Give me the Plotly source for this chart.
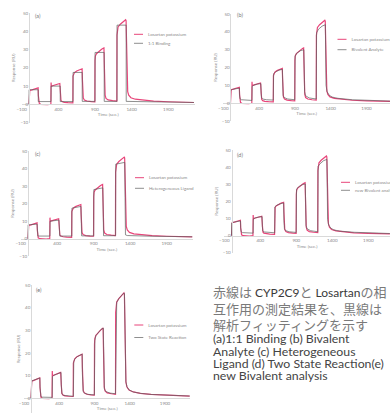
import plotly.graph_objects as go

# ---------------- data ----------------
time_data = [0, 3, 10, 40, 80, 110, 124, 127, 131, 140, 160, 200, 250, 298,
             300, 301, 304, 320, 360, 400, 420, 426, 430, 436, 450, 480, 530, 598,
             600, 606, 620, 650, 690, 715, 724, 728, 732, 740, 755, 790, 850, 898,
             900, 905, 920, 950, 990, 1012, 1022, 1026, 1030, 1038, 1050, 1080, 1140, 1198,
             1200, 1204, 1215, 1245, 1280, 1305, 1318, 1324, 1328, 1332, 1338, 1346, 1360,
             1390, 1450, 1550, 1700, 1900, 2100, 2250]
resp_data = [0, 7.0, 7.6, 7.9, 8.3, 8.7, 9.0, 5.0, 1.5, 0.5, 0.0, -0.2, -0.2, 0.0,
             9.0, 12.0, 9.8, 10.2, 10.7, 11.2, 11.4, 8.0, 4.0, 2.2, 1.5, 1.1, 0.9, 0.8,
             15.5, 16.5, 17.4, 18.3, 19.0, 19.4, 19.5, 14.0, 7.0, 3.5, 2.4, 1.8, 1.5, 1.4,
             24.0, 26.5, 27.8, 29.0, 30.2, 30.8, 31.0, 24.0, 12.0, 5.0, 3.2, 2.4, 2.0, 1.8,
             38.0, 41.0, 42.5, 44.0, 45.3, 46.2, 46.5, 46.0, 38.0, 25.0, 12.0, 7.0, 5.0,
             3.6, 2.8, 2.2, 1.7, 1.4, 1.2, 1.0]

fit_a_t = [0, 1, 125, 126, 300, 301, 425, 426, 600, 601, 725, 726, 900, 901,
           1025, 1026, 1200, 1201, 1325, 1326, 2250]
fit_a_y = [0, 8.0, 8.0, 1.5, 1.5, 10.0, 10.0, 1.5, 1.5, 17.5, 17.5, 1.6, 1.6, 28.5,
           28.5, 1.6, 1.6, 43.5, 43.5, 1.6, 1.0]

fit_b_t = [0, 2, 30, 80, 125, 128, 135, 150, 200, 298,
           300, 303, 330, 380, 425, 428, 435, 450, 500, 598,
           600, 603, 630, 680, 725, 728, 735, 750, 800, 898,
           900, 903, 930, 980, 1025, 1028, 1035, 1050, 1100, 1198,
           1200, 1203, 1230, 1280, 1325, 1328, 1335, 1350, 1380, 1420, 1500, 1700, 2000, 2250]
fit_b_y = [0, 7.2, 7.8, 8.2, 8.5, 4.0, 2.4, 2.0, 1.8, 1.6,
           1.6, 9.5, 10.2, 10.8, 11.0, 5.5, 3.0, 2.4, 2.0, 1.8,
           1.8, 16.5, 17.6, 18.6, 19.0, 9.0, 4.5, 3.2, 2.4, 2.0,
           2.0, 26.5, 28.2, 29.5, 30.0, 14.0, 6.5, 4.2, 3.0, 2.4,
           2.4, 39.5, 41.5, 43.2, 44.0, 22.0, 10.0, 6.5, 4.5, 3.5, 2.8, 2.0, 1.5, 1.2]

fit_c_t = [0, 2, 125, 127, 135, 300, 302, 425, 427, 435, 600, 602, 725, 727, 735,
           900, 902, 1025, 1027, 1035, 1200, 1202, 1325, 1327, 1335, 1360, 1450, 1700, 2250]
fit_c_y = [0, 7.9, 8.3, 2.0, 1.5, 1.5, 10.0, 10.6, 2.0, 1.5, 1.5, 17.4, 18.4, 2.2, 1.6,
           1.6, 28.0, 29.0, 2.5, 1.7, 1.7, 42.5, 43.5, 4.0, 2.2, 1.8, 1.6, 1.4, 1.1]

fit_d_t = fit_b_t
fit_d_y = [0, 7.4, 7.9, 8.3, 8.6, 4.0, 2.2, 1.8, 1.6, 1.5,
           1.5, 9.8, 10.4, 10.9, 11.1, 5.5, 2.8, 2.2, 1.9, 1.7,
           1.7, 16.8, 17.8, 18.7, 19.1, 9.0, 4.2, 3.0, 2.3, 1.9,
           1.9, 27.0, 28.5, 29.7, 30.2, 14.0, 6.0, 4.0, 2.9, 2.3,
           2.3, 40.5, 42.0, 43.8, 44.5, 22.0, 9.5, 6.2, 4.4, 3.4, 2.7, 2.0, 1.5, 1.2]

fit_e_t = [0, 3, 10, 40, 80, 115, 125, 128, 133, 140, 160, 200, 298,
           300, 304, 320, 360, 400, 425, 428, 433, 440, 460, 520, 598,
           600, 606, 620, 650, 690, 725, 728, 733, 740, 760, 820, 898,
           900, 905, 920, 950, 990, 1025, 1028, 1033, 1040, 1060, 1120, 1198,
           1200, 1205, 1215, 1245, 1280, 1310, 1325, 1329, 1335, 1345, 1360, 1390,
           1450, 1550, 1700, 1900, 2100, 2250]
fit_e_y = [0, 7.2, 7.7, 8.0, 8.4, 8.8, 9.0, 4.5, 1.5, 0.8, 0.5, 0.4, 0.4,
           0.4, 9.6, 10.1, 10.6, 11.1, 11.4, 6.0, 2.8, 1.9, 1.3, 1.0, 0.9,
           0.9, 16.2, 17.3, 18.3, 19.0, 19.5, 11.0, 4.5, 3.0, 2.2, 1.7, 1.5,
           1.5, 25.5, 27.7, 29.0, 30.3, 31.0, 18.0, 7.0, 4.2, 3.0, 2.3, 2.0,
           2.0, 40.0, 42.3, 44.0, 45.4, 46.3, 46.3, 30.0, 14.0, 7.5, 5.2, 3.7,
           2.8, 2.2, 1.7, 1.4, 1.2, 1.0]

data_name = "Losartan potassium"
fit_names = ["1:1 Binding", "Bivalent Analyte", "Heterogeneous Ligand",
             "new Bivalent analysis", "Two State Reaction"]
panel_labels = ["(a)", "(b)", "(c)", "(d)", "(e)"]
x_ticks = [-100, 400, 900, 1400, 1900]
y_ticks = [-10, 0, 10, 20, 30, 40, 50]
x_title = "Time (sec.)"
y_title = "Response (RU)"

fits = [(fit_a_t, fit_a_y), (fit_b_t, fit_b_y), (fit_c_t, fit_c_y),
        (fit_d_t, fit_d_y), (fit_e_t, fit_e_y)]

W, H = 390, 413
RED = "#e8457a"
FIT = "#5f5f5f"
AX = "#d9d9d9"
TXT = "#8a8a8a"
FONT = "Lato, Open Sans, sans-serif"
LEG_DASH = "0px,21px,10px,400px"   # short legend sample just before the text

def px(x):
    return x / W

def py(y):
    return 1 - y / H

# panel geometry (pixels): x of -100, px per unit x, x-range end, y(50) px, y(0) px, bottom y value
panels = [
    dict(x0=21.7, sx=0.0733, xend=2260, y50=13.3, y0=104.3, ybot=-10, lab=(118, 48.6),
         leg=[(149, 34.3), (149, 43.3)]),
    dict(x0=223.3, sx=0.0716, xend=2228, y50=14.0, y0=103.3, ybot=-10, lab=(133, 49.4),
         leg=[(352.5, 39.3), (352.5, 49.7)]),
    dict(x0=20.7, sx=0.0730, xend=2260, y50=151.0, y0=238.7, ybot=-10, lab=(133, 48.3),
         leg=[(150, 177.7), (150, 188.3)]),
    dict(x0=224.3, sx=0.0720, xend=2200, y50=150.0, y0=235.7, ybot=-10, lab=(118, 47.1),
         leg=[(356, 182.3), (356, 190.3)]),
    dict(x0=24.0, sx=0.0705, xend=2260, y50=285.0, y0=398.3, ybot=None, lab=(117, 47.8),
         leg=[(149.3, 325), (149.3, 337.5)]),
]

fig = go.Figure()
layout = dict(width=W, height=H, margin=dict(l=0, r=0, t=0, b=0, autoexpand=False),
              paper_bgcolor="white", plot_bgcolor="rgba(0,0,0,0)", showlegend=True,
              font=dict(family=FONT, color=TXT, size=5), annotations=[])

for i, p in enumerate(panels):
    n = i + 1
    xs = "" if n == 1 else str(n)
    sy = (p["y0"] - p["y50"]) / 50.0
    xl = p["x0"]
    xr = min(W, p["x0"] + (p["xend"] + 100) * p["sx"])
    xend = (xr - p["x0"]) / p["sx"] - 100
    if p["ybot"] is None:
        ybot_px = H
        ybot = -(H - p["y0"]) / sy
    else:
        ybot = p["ybot"]
        ybot_px = p["y0"] - ybot * sy
    layout["xaxis" + xs] = dict(
        domain=[px(xl), px(xr)], range=[-100, xend], anchor="free",
        position=py(p["y0"]), showline=True, linecolor=AX, linewidth=0.8,
        showgrid=False, zeroline=False, tickvals=x_ticks, ticks="",
        tickfont=dict(size=4.5, color=TXT, family=FONT),
        title=dict(text=x_title, font=dict(size=4.5, color=TXT), standoff=2),
    )
    layout["yaxis" + xs] = dict(
        domain=[py(ybot_px), py(p["y50"])], range=[ybot, 50], anchor="free",
        position=px(p["x0"] + 100 * p["sx"]), showline=True, linecolor=AX, linewidth=0.8,
        showgrid=False, zeroline=False, tickvals=y_ticks, ticks="",
        tickfont=dict(size=4.5, color=TXT, family=FONT),
        title=dict(text=y_title, font=dict(size=4.5, color=TXT), standoff=3),
    )
    t, y = fits[i]
    l1 = "legend" if n == 1 else "legend%d" % (2 * n - 1)
    l2 = "legend%d" % (2 * n)
    fig.add_trace(go.Scatter(x=time_data, y=resp_data, mode="lines", name=data_name,
                             line=dict(color=RED, width=1.2), xaxis="x" + xs, yaxis="y" + xs,
                             showlegend=False))
    fig.add_trace(go.Scatter(x=t, y=y, mode="lines", name=fit_names[i],
                             line=dict(color=FIT, width=0.7), xaxis="x" + xs, yaxis="y" + xs,
                             showlegend=False))
    # legend entries (no data of their own; the sample line is shortened by a dash pattern)
    fig.add_trace(go.Scatter(x=[None], y=[None], mode="lines", name=data_name,
                             line=dict(color=RED, width=1.0, dash=LEG_DASH),
                             xaxis="x" + xs, yaxis="y" + xs, legend=l1, showlegend=True))
    fig.add_trace(go.Scatter(x=[None], y=[None], mode="lines", name=fit_names[i],
                             line=dict(color=FIT, width=0.7, dash=LEG_DASH),
                             xaxis="x" + xs, yaxis="y" + xs, legend=l2, showlegend=True))
    for key, (lx, ly) in zip([l1, l2], p["leg"]):
        layout[key] = dict(x=px(lx - 41), y=py(ly), xanchor="left", yanchor="middle",
                           bgcolor="rgba(0,0,0,0)", borderwidth=0, itemwidth=30,
                           visible=True,
                           font=dict(size=4.5, color=TXT, family=FONT))
    layout["annotations"].append(dict(
        text=panel_labels[i], x=p["lab"][0], y=p["lab"][1], xref="x" + xs, yref="y" + xs,
        showarrow=False, font=dict(size=5.5, color="#777777", family=FONT)))

# explanatory text
LAT = "font-family:Lato;font-size:12px;color:#3a3a3a"
jp_lines = ["赤線は <span style='%s'>CYP2C9</span>と <span style='%s'>Losartan</span>の相" % (LAT, LAT),
            "互作用の測定結果を、黒線は",
            "解析フィッティングを示す"]
jp_y = [291.7, 308.3, 324.3]
en_lines = ["(a)1:1 Binding (b) Bivalent",
            "Analyte (c) Heterogeneous",
            "Ligand (d) Two State Reaction(e)",
            "new Bivalent analysis"]
en_y = [338.5, 351.0, 363.3, 375.5]
for s, yy in zip(jp_lines, jp_y):
    layout["annotations"].append(dict(
        text=s, x=px(211), y=py(yy), xref="paper", yref="paper", xanchor="left",
        yanchor="middle", showarrow=False,
        font=dict(size=13, color="#7a7a7a", family="Noto Sans CJK JP")))
for s, yy in zip(en_lines, en_y):
    layout["annotations"].append(dict(
        text=s, x=px(211), y=py(yy), xref="paper", yref="paper", xanchor="left",
        yanchor="middle", showarrow=False,
        font=dict(size=12.3, color="#444444", family="Lato, sans-serif")))

fig.update_layout(**layout)
fig.write_html("out.html")
